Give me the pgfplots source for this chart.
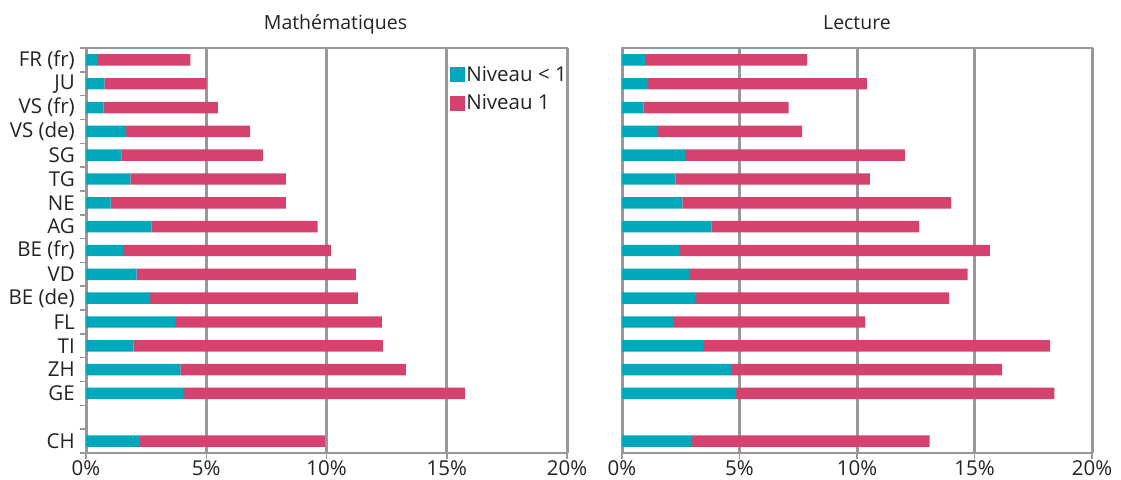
\documentclass[border=0pt]{standalone}
\usepackage{pgfplots}
\pgfplotsset{compat=1.18}
\usepackage{pgfplotstable}
\usepackage{fontspec}
\setmainfont{Open Sans}
\definecolor{tealb}{RGB}{0,168,188}
\definecolor{pinkb}{RGB}{214,66,110}
\definecolor{gridg}{RGB}{152,152,155}
\definecolor{txt}{RGB}{35,35,35}

\pgfplotstableread{
y blue n1
16 0.46 3.88
15 0.76 4.26
14 0.72 4.76
13 1.67 5.15
12 1.48 5.87
11 1.84 6.47
10 1.02 7.29
9 2.72 6.91
8 1.53 8.65
7 2.11 9.11
6 2.67 8.63
5 3.70 8.60
4 1.97 10.37
3 3.92 9.38
2 4.08 11.67
0 2.24 7.70
}\mathdata

\pgfplotstableread{
y blue n1
16 0.98 6.90
15 1.10 9.32
14 0.91 6.18
13 1.53 6.13
12 2.67 9.37
11 2.28 8.27
10 2.57 11.43
9 3.80 8.84
8 2.46 13.19
7 2.90 11.81
6 3.10 10.82
5 2.17 8.18
4 3.45 14.77
3 4.67 11.51
2 4.86 13.54
0 2.98 10.11
}\lecdata

\pgfplotsset{
  panel/.style={
    scale only axis,
    height=405pt,
    anchor=south west,
    xmin=0, xmax=20, ymin=-0.5, ymax=16.5,
    xbar stacked,
    bar width=0.48,
    xtick={0,5,10,15,20},
    xticklabels={0\%,5\%,10\%,15\%,20\%},
    xtick pos=bottom,
    ytick pos=left,
    tick align=outside,
    major tick length=6pt,
    minor tick length=6pt,
    major x tick style={gridg, line width=1.5pt},
    xmajorgrids=true,
    major grid style={gridg, line width=3pt},
    axis line style={gridg, line width=2pt},
    tick label style={font=\fontsize{20.5}{22}\selectfont, text=txt},
    xticklabel style={inner ysep=1pt},
    title style={at={(0.5,1)}, anchor=base, yshift=12pt, font=\fontsize{19.5}{22}\selectfont, text=txt},
  }
}

\begin{document}
\begin{tikzpicture}
\path[use as bounding box] (0,0) rectangle (1121pt,479pt);

\begin{axis}[panel,
  at={(86pt,26pt)}, width=481pt,
  title={Mathématiques},
  title style={xshift=9pt},
  ytick={0,2,3,...,16},
  yticklabels={CH,GE,ZH,TI,FL,BE (de),VD,BE (fr),AG,NE,TG,SG,VS (de),VS (fr),JU,FR (fr)},
  yticklabel style={inner xsep=5pt},
  minor ytick={-0.5,0.5,...,16.5},
  major y tick style={draw=none},
  minor y tick style={gridg, line width=1.5pt},
  legend style={at={(0.757,0.958)}, anchor=north west, draw=none, fill=none,
    font=\fontsize{20.5}{22}\selectfont, text=txt, row sep=10pt,
    inner sep=0pt, nodes={inner xsep=1pt, inner ysep=1pt}},
  legend cell align=left,
  legend image code/.code={\fill[#1] (0pt,-7.5pt) rectangle (15pt,7.5pt);},
]
\addplot[fill=tealb, draw=none] table[x=blue, y=y]{\mathdata};
\addplot[fill=pinkb, draw=none] table[x=n1, y=y]{\mathdata};
\legend{Niveau < 1, Niveau 1}
\end{axis}

\begin{axis}[panel,
  at={(622pt,26pt)}, width=470pt,
  title={Lecture},
  ytick=\empty,
]
\addplot[fill=tealb, draw=none] table[x=blue, y=y]{\lecdata};
\addplot[fill=pinkb, draw=none] table[x=n1, y=y]{\lecdata};
\end{axis}
\end{tikzpicture}
\end{document}
